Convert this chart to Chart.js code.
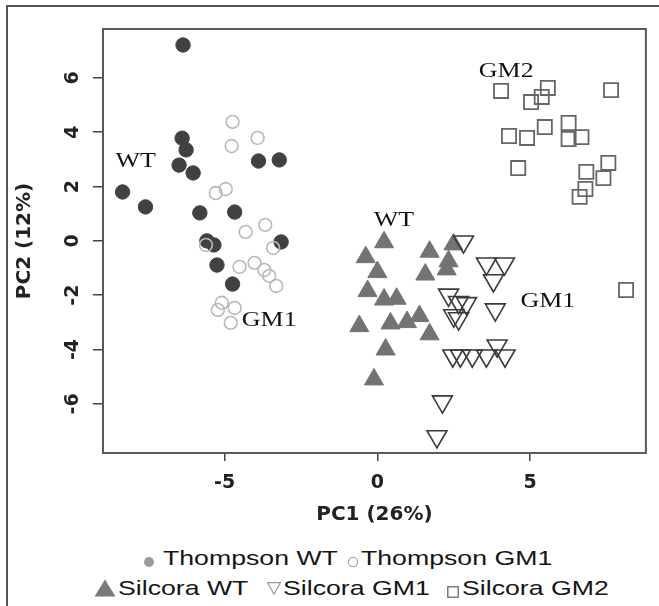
<!DOCTYPE html>
<html>
<head>
<meta charset="utf-8">
<script src="https://cdn.jsdelivr.net/npm/chart.js@4.4.1/dist/chart.umd.min.js"></script>
<style>
  html, body { margin: 0; padding: 0; background: #fff; }
  #wrap { position: relative; width: 659px; height: 606px; overflow: hidden; background: #fff; }
  #c { position: absolute; left: 0; top: 0; }
  .fr { position: absolute; background: #555; }
  .lg-text { position: absolute; font-family: "Liberation Sans", Arial, sans-serif; font-size: 21px; line-height: 21px; color: #151515; white-space: nowrap; transform: scaleX(1.27); transform-origin: 0 50%; }
  .lg-mark { position: absolute; }
</style>
</head>
<body>
<div id="wrap">
  <canvas id="c" width="659" height="530"></canvas>
  <div class="fr" style="left:6px;top:5px;width:653px;height:2px;"></div>
  <div class="fr" style="left:6px;top:5px;width:2px;height:601px;"></div>
  <div id="legend"></div>
</div>
<script>
// ---------- data ----------
const seriesNames = ['Thompson WT', 'Thompson GM1', 'Silcora WT', 'Silcora GM1', 'Silcora GM2'];

const thompsonWT_x = [-6.36, -6.39, -6.26, -6.49, -6.03, -3.89, -3.21, -8.34, -7.59, -5.81, -4.67, -5.58, -5.35, -3.15, -5.25, -4.74];
const thompsonWT_y = [ 7.21,  3.78,  3.35,  2.79,  2.50,  2.94,  2.98,  1.80,  1.25,  1.03,  1.06,  0.00, -0.15, -0.04, -0.89, -1.59];

const thompsonGM1_x = [-4.74, -4.77, -3.92, -5.29, -4.96, -4.31, -3.67, -5.61, -3.41, -4.51, -4.02, -3.70, -3.54, -3.31, -5.09, -5.22, -4.67, -4.80];
const thompsonGM1_y = [ 4.38,  3.49,  3.79,  1.76,  1.91,  0.33,  0.59, -0.15, -0.26, -0.96, -0.81, -1.07, -1.29, -1.66, -2.28, -2.54, -2.47, -3.02];

const silcoraWT_x = [0.22, -0.38, 0.00, 1.71, 2.49, 2.33, 2.27, 1.57, -0.32, 0.22, 0.63, -0.59, 0.43, 0.97, 1.38, 1.71, 0.27, -0.11];
const silcoraWT_y = [-0.05, -0.60, -1.15, -0.40, -0.13, -0.75, -1.05, -1.24, -1.85, -2.16, -2.13, -3.14, -3.04, -2.99, -2.77, -3.44, -4.00, -5.10];

const silcoraGM1_x = [2.82, 3.57, 4.16, 3.80, 2.33, 2.66, 2.92, 2.50, 2.66, 3.86, 2.47, 2.72, 3.11, 3.57, 4.18, 3.92, 2.13, 1.95];
const silcoraGM1_y = [-0.03, -0.84, -0.84, -1.46, -1.99, -2.26, -2.30, -2.75, -2.86, -2.53, -4.23, -4.23, -4.23, -4.23, -4.23, -3.86, -5.92, -7.20];

const silcoraGM2_x = [4.05, 5.03, 5.38, 5.58, 7.65, 4.31, 4.90, 5.48, 6.26, 6.26, 6.68, 4.61, 7.56, 6.84, 7.40, 6.81, 6.62, 8.14];
const silcoraGM2_y = [5.52, 5.11, 5.30, 5.63, 5.55, 3.86, 3.79, 4.19, 4.34, 3.75, 3.82, 2.68, 2.87, 2.54, 2.31, 1.91, 1.62, -1.81];

const xTicks = [-5, 0, 5];
const yTicks = [-6, -4, -2, 0, 2, 4, 6];
const xRange = [-8.98, 8.79];
const yRange = [-7.81, 7.80];

const annotLabels = ['WT', 'GM1', 'WT', 'GM2', 'GM1'];
const annotX = [-7.91, -3.54, 0.54, 4.22, 5.58];
const annotY = [ 2.72, -3.13, 0.55, 6.03, -2.43];

const xTitle = 'PC1 (26%)';
const yTitle = 'PC2 (12%)';

// ---------- build ----------
const zip = (xs, ys) => xs.map((x, i) => ({ x: x, y: ys[i] }));

const datasets = [
  { label: seriesNames[0], data: zip(thompsonWT_x, thompsonWT_y), pointStyle: 'circle', pointRadius: 7.2,
    backgroundColor: '#414141', borderColor: '#414141', borderWidth: 1, order: 5 },
  { label: seriesNames[1], data: zip(thompsonGM1_x, thompsonGM1_y), pointStyle: 'circle', pointRadius: 6.4,
    backgroundColor: 'rgba(0,0,0,0)', borderColor: '#b9b9b9', borderWidth: 1.6, order: 4 },
  { label: seriesNames[2], data: zip(silcoraWT_x, silcoraWT_y), pointStyle: 'triangle', pointRadius: 11,
    backgroundColor: '#737373', borderColor: '#737373', borderWidth: 1, order: 3 },
  { label: seriesNames[3], data: zip(silcoraGM1_x, silcoraGM1_y), pointStyle: 'triangle', pointRotation: 180, pointRadius: 11.5,
    backgroundColor: 'rgba(0,0,0,0)', borderColor: '#3a3a3a', borderWidth: 1.6, order: 2 },
  { label: seriesNames[4], data: zip(silcoraGM2_x, silcoraGM2_y), pointStyle: 'rect', pointRadius: 10,
    backgroundColor: 'rgba(0,0,0,0)', borderColor: '#666666', borderWidth: 1.8, order: 1 }
];

const framePlugin = {
  id: 'framePlugin',
  afterDraw(chart) {
    const { ctx, chartArea: a, scales } = chart;
    ctx.save();
    ctx.strokeStyle = '#5a5a5a';
    ctx.lineWidth = 2;
    ctx.strokeRect(a.left, a.top, a.right - a.left, a.bottom - a.top);
    ctx.fillStyle = '#111';
    ctx.font = '22px "Liberation Serif", "Times New Roman", serif';
    ctx.textAlign = 'center';
    ctx.textBaseline = 'alphabetic';
    annotLabels.forEach((t, i) => {
      const px = scales.x.getPixelForValue(annotX[i]);
      const py = scales.y.getPixelForValue(annotY[i]);
      ctx.save();
      ctx.translate(px, py);
      ctx.scale(1.18, 1);
      ctx.fillText(t, 0, 0);
      ctx.restore();
    });
    ctx.restore();
  }
};

Chart.defaults.font.family = '"DejaVu Sans", sans-serif';

const chart = new Chart(document.getElementById('c'), {
  type: 'scatter',
  data: { datasets: datasets },
  options: {
    responsive: false,
    devicePixelRatio: 1,
    animation: false,
    events: [],
    layout: { padding: { top: 29, right: 8, left: 0, bottom: 0 } },
    plugins: { legend: { display: false }, tooltip: { enabled: false } },
    scales: {
      x: {
        type: 'linear', min: xRange[0], max: xRange[1],
        afterBuildTicks: s => { s.ticks = xTicks.map(v => ({ value: v })); },
        afterFit: s => { s.height = 77; },
        ticks: { maxRotation: 0, minRotation: 0, padding: 10.5, color: '#222', font: { size: 19, weight: 'bold' } },
        grid: { drawOnChartArea: false, drawTicks: true, tickLength: 8, color: '#444', lineWidth: 1.5 },
        border: { display: false },
        title: { display: true, text: xTitle, color: '#222', font: { size: 20, weight: 'bold' }, padding: { top: 0, bottom: 3 } }
      },
      y: {
        type: 'linear', min: yRange[0], max: yRange[1],
        afterBuildTicks: s => { s.ticks = yTicks.map(v => ({ value: v })); },
        afterFit: s => { s.width = 103; },
        ticks: { minRotation: 90, maxRotation: 90, crossAlign: 'center', padding: 9.5, color: '#222', font: { size: 19, weight: 'bold' } },
        grid: { drawOnChartArea: false, drawTicks: true, tickLength: 10, color: '#444', lineWidth: 1.5 },
        border: { display: false },
        title: { display: true, text: yTitle, color: '#222', font: { size: 20, weight: 'bold' }, padding: { top: 13, bottom: 0 } }
      }
    }
  },
  plugins: [framePlugin]
});

// ---------- HTML legend built from the datasets ----------
const legendLayout = [
  { mark: 'dot',    cx: 149,   cy: 560, tx: 163, ty: 547 },
  { mark: 'ring',   cx: 353,   cy: 560, tx: 361, ty: 547 },
  { mark: 'tri',    cx: 104.5, cy: 588, tx: 118, ty: 577 },
  { mark: 'dtri',   cx: 273.5, cy: 587, tx: 283, ty: 577 },
  { mark: 'square', cx: 452.5, cy: 590, tx: 462, ty: 577 }
];
const markSvg = {
  dot:    { w: 12, h: 12, s: '<circle cx="6" cy="6" r="5" fill="#9c9c9c"/>' },
  ring:   { w: 12, h: 12, s: '<circle cx="6" cy="6" r="4.6" fill="none" stroke="#a8a8a8" stroke-width="1.3"/>' },
  tri:    { w: 22, h: 18, s: '<polygon points="0.5,17.5 11,0.5 21.5,17.5" fill="#7a7a7a"/>' },
  dtri:   { w: 14, h: 13, s: '<polygon points="0.7,0.7 13.3,0.7 7,12.3" fill="none" stroke="#9a9a9a" stroke-width="1.2"/>' },
  square: { w: 12, h: 12, s: '<rect x="0.8" y="0.8" width="10.4" height="10.4" fill="none" stroke="#666" stroke-width="1.3"/>' }
};
const lg = document.getElementById('legend');
chart.data.datasets.forEach((ds, i) => {
  const L = legendLayout[i];
  const m = markSvg[L.mark];
  const mk = document.createElement('div');
  mk.className = 'lg-mark';
  mk.style.left = (L.cx - m.w / 2) + 'px';
  mk.style.top = (L.cy - m.h / 2) + 'px';
  mk.innerHTML = '<svg width="' + m.w + '" height="' + m.h + '" xmlns="http://www.w3.org/2000/svg">' + m.s + '</svg>';
  lg.appendChild(mk);
  const tx = document.createElement('div');
  tx.className = 'lg-text';
  tx.style.left = L.tx + 'px';
  tx.style.top = L.ty + 'px';
  tx.textContent = ds.label;
  lg.appendChild(tx);
});
</script>
</body>
</html>
